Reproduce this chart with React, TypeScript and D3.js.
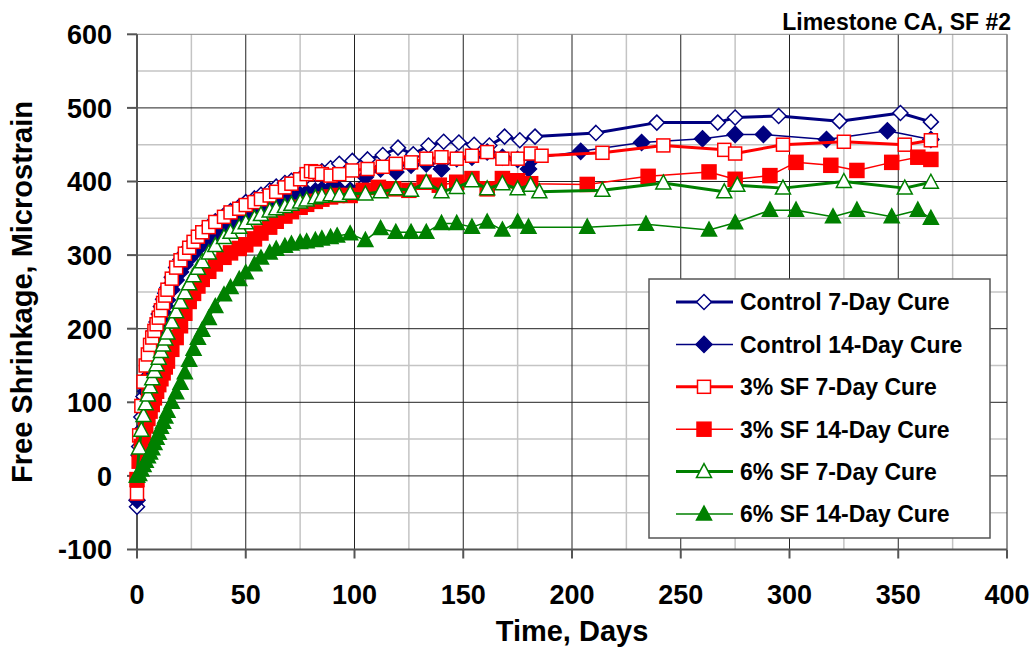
import React from "react";
import * as d3 from "d3";

type P = [number, number];

const xTicks = [0, 50, 100, 150, 200, 250, 300, 350, 400];
const yTicks = [-100, 0, 100, 200, 300, 400, 500, 600];
const xMinor = [25, 75, 125, 175, 225, 275, 325, 375];
const yMinor = [-50, 50, 150, 250, 350, 450, 550];

const title = "Limestone CA, SF #2";
const xTitle = "Time, Days";
const yTitle = "Free Shrinkage, Microstrain";

const control7: P[] = [[0,-42],[1,40],[2,80],[3,108],[4,132],[5,152],[6,168],[7,183],[8,197],[9,209],[10,220],[11,230],[12,240],[13,248],[14,256],[16,270],[18,283],[20,294],[22,303],[24,311],[26,318],[28,325],[30,331],[33,339],[36,346],[40,354],[43,360],[47,366],[50,372],[54,377],[57,382],[61,388],[64,393],[68,398],[71,401],[75,404],[78,407],[82,410],[85,414],[89,418],[93,424],[99,428],[106,430],[113,436],[120,446],[127,437],[134,449],[141,454],[148,453],[155,450],[162,449],[169,461],[176,456],[183,461],[211,466],[239,480],[267,480],[275,487],[295,489],[323,482],[351,493],[365,481]];

const control14: P[] = [[0,-33],[1,28],[2,62],[3,92],[4,115],[5,135],[6,152],[7,167],[8,180],[9,192],[10,203],[11,213],[12,222],[13,231],[14,239],[16,253],[18,266],[20,277],[22,287],[24,295],[26,302],[28,309],[30,315],[33,322],[36,329],[40,337],[43,343],[47,349],[50,354],[54,359],[57,363],[61,368],[64,372],[68,376],[71,379],[75,382],[78,385],[82,387],[85,389],[89,391],[92,392],[98,388],[105,406],[112,417],[119,413],[126,422],[133,424],[140,417],[147,431],[154,433],[161,440],[168,433],[175,430],[180,417],[182,431],[204,441],[232,453],[260,458],[275,464],[288,464],[317,457],[345,469],[365,457]];

const sf3d7: P[] = [[0,-24],[1,55],[2,95],[3,128],[4,150],[5,165],[6,178],[7,188],[8,197],[9,206],[10,215],[11,225],[12,235],[13,245],[14,253],[16,268],[18,283],[20,293],[22,302],[24,310],[26,318],[28,325],[30,331],[33,338],[36,345],[40,352],[43,358],[47,363],[50,368],[54,372],[57,376],[61,381],[64,386],[68,392],[71,397],[75,403],[78,410],[80,414],[82,413],[85,410],[89,408],[93,410],[99,415],[106,417],[113,420],[119,424],[126,426],[133,431],[140,433],[147,431],[154,435],[161,440],[168,431],[175,431],[181,438],[186,435],[214,439],[242,449],[270,443],[275,438],[297,450],[325,454],[353,450],[365,456]];

const sf3d14: P[] = [[0,-5],[1,20],[2,40],[3,55],[4,68],[5,78],[6,88],[7,97],[8,106],[9,115],[10,124],[11,132],[12,140],[13,148],[14,156],[16,172],[18,188],[20,204],[22,221],[24,237],[26,248],[28,258],[30,267],[33,278],[36,288],[40,297],[43,303],[47,309],[50,314],[54,322],[57,330],[61,338],[64,346],[68,353],[71,359],[75,365],[78,369],[82,373],[85,376],[89,379],[92,381],[98,381],[104,388],[111,392],[118,390],[125,388],[132,399],[139,395],[147,399],[154,404],[161,390],[168,404],[175,401],[181,397],[207,396],[235,407],[263,413],[275,403],[291,408],[303,426],[319,422],[331,415],[347,426],[359,433],[365,430]];

const sf6d7: P[] = [[0,0],[1,38],[2,62],[3,82],[4,98],[5,110],[6,121],[7,132],[8,142],[9,151],[10,160],[11,169],[12,178],[13,186],[14,194],[16,209],[18,223],[20,236],[22,249],[24,261],[26,272],[28,282],[30,291],[33,303],[36,313],[40,324],[43,331],[47,338],[50,344],[54,350],[57,355],[61,360],[64,363],[68,366],[71,369],[75,372],[78,375],[82,378],[85,380],[89,382],[93,381],[98,384],[105,383],[112,386],[119,390],[126,388],[133,399],[140,386],[147,392],[154,401],[161,390],[168,397],[175,390],[181,395],[185,386],[214,388],[242,398],[270,386],[276,395],[297,391],[325,400],[353,391],[365,399]];

const sf6d14: P[] = [[0,0],[1,2],[2,8],[3,14],[4,20],[5,26],[6,31],[7,37],[8,44],[9,51],[10,58],[11,66],[12,73],[13,80],[14,88],[16,100],[18,113],[20,126],[22,140],[24,157],[26,172],[28,187],[30,198],[33,214],[36,230],[40,246],[43,256],[47,267],[50,276],[54,287],[57,296],[61,303],[64,308],[68,312],[71,315],[75,317],[78,318],[82,320],[85,322],[89,324],[92,326],[98,329],[105,320],[112,336],[119,331],[126,331],[133,331],[140,343],[147,343],[154,338],[161,345],[168,334],[175,345],[180,338],[207,338],[234,342],[263,334],[275,344],[291,361],[303,361],[320,352],[331,361],[347,352],[359,361],[365,350]];

const seriesNames = ["Control 7-Day Cure", "Control 14-Day Cure", "3% SF 7-Day Cure", "3% SF 14-Day Cure", "6% SF 7-Day Cure", "6% SF 14-Day Cure"];
const seriesData = [control7, control14, sf3d7, sf3d14, sf6d7, sf6d14];
const seriesColors = ["#000080", "#000080", "#FF0000", "#FF0000", "#008000", "#008000"];
const seriesShapes = ["diamond", "diamond", "square", "square", "triangle", "triangle"];
const seriesFilled = [false, true, false, true, false, true];
const seriesThick = [true, false, true, false, true, false];

const FONT = "'Liberation Sans', Arial, Helvetica, sans-serif";

function Marker({ shape, filled, color, x, y }: { shape: string; filled: boolean; color: string; x: number; y: number }) {
  const fill = filled ? color : "#fff";
  const sw = 1.5;
  if (shape === "diamond") {
    const r = filled ? 8 : 7.5;
    return <path d={`M${x},${y - r}L${x + r},${y}L${x},${y + r}L${x - r},${y}Z`} fill={fill} stroke={color} strokeWidth={sw} />;
  }
  if (shape === "square") {
    const h = filled ? 7 : 6.5;
    return <rect x={x - h} y={y - h} width={2 * h} height={2 * h} fill={fill} stroke={color} strokeWidth={sw} />;
  }
  const w = 7.5;
  return <path d={`M${x},${y - 8}L${x + w},${y + 6}L${x - w},${y + 6}Z`} fill={fill} stroke={color} strokeWidth={sw} strokeLinejoin="miter" />;
}

export default function App() {
  const W = 1036, H = 648;
  const x = d3.scaleLinear().domain([0, 400]).range([137, 1007]);
  const y = d3.scaleLinear().domain([-100, 600]).range([549.5, 34.3]);
  const line = d3.line<P>().x((d) => x(d[0])).y((d) => y(d[1]));

  const legX = 649, legY = 279, legW = 341, legH = 259;
  const legRow0 = 302, legStep = 42.4;

  return (
    <svg width={W} height={H} style={{ position: "absolute", left: 0, top: 0, background: "#fff" }} fontFamily={FONT}>
      <rect x={0} y={0} width={W} height={H} fill="#fff" />
      <g stroke="#c4c4c4" strokeWidth={1.5}>
        {xMinor.map((v) => <line key={"xm" + v} x1={x(v)} x2={x(v)} y1={y(600)} y2={y(-100)} />)}
        {yMinor.map((v) => <line key={"ym" + v} x1={x(0)} x2={x(400)} y1={y(v)} y2={y(v)} />)}
      </g>
      <g stroke="#222" strokeWidth={1}>
        {xTicks.filter((v) => v > 0).map((v) => <line key={"xM" + v} x1={x(v)} x2={x(v)} y1={y(600)} y2={y(-100)} />)}
        {yTicks.filter((v) => v > -100).map((v) => <line key={"yM" + v} x1={x(0)} x2={x(400)} y1={y(v)} y2={y(v)} stroke={v === 600 ? "#888" : "#222"} />)}
      </g>
      <g stroke="#555" strokeWidth={2}>
        <line x1={x(0)} x2={x(0)} y1={y(600)} y2={y(-100)} />
        <line x1={x(0)} x2={x(400)} y1={y(-100)} y2={y(-100)} />
        {yTicks.map((v) => <line key={"yt" + v} x1={x(0) - 10} x2={x(0)} y1={y(v)} y2={y(v)} />)}
        {xTicks.map((v) => <line key={"xt" + v} x1={x(v)} x2={x(v)} y1={y(-100)} y2={y(-100) + 9} />)}
      </g>
      <g fontSize={27} fontWeight="bold" fill="#000">
        {yTicks.map((v) => <text key={"yl" + v} x={112} y={y(v) + 9.8} textAnchor="end">{v}</text>)}
        {xTicks.map((v) => <text key={"xl" + v} x={x(v)} y={604} textAnchor="middle">{v}</text>)}
      </g>
      <text x={572} y={641} textAnchor="middle" fontSize={29} fontWeight="bold">{xTitle}</text>
      <text transform={`translate(32,292) rotate(-90)`} textAnchor="middle" fontSize={29} fontWeight="bold">{yTitle}</text>
      <text x={1011} y={30} textAnchor="end" fontSize={23} fontWeight="bold">{title}</text>

      {seriesData.map((data, i) => (
        <g key={"s" + i}>
          <path d={line(data) || ""} fill="none" stroke={seriesColors[i]} strokeWidth={seriesThick[i] ? 3 : 1.5} strokeLinejoin="round" />
          {data.map((d, j) => (
            <Marker key={j} shape={seriesShapes[i]} filled={seriesFilled[i]} color={seriesColors[i]} x={x(d[0])} y={y(d[1])} />
          ))}
        </g>
      ))}

      <rect x={legX} y={legY} width={legW} height={legH} fill="#fff" stroke="#555" strokeWidth={1.5} />
      {seriesNames.map((name, i) => {
        const ly = legRow0 + i * legStep;
        return (
          <g key={"lg" + i}>
            <line x1={676} x2={733} y1={ly} y2={ly} stroke={seriesColors[i]} strokeWidth={seriesThick[i] ? 3 : 1.5} />
            <Marker shape={seriesShapes[i]} filled={seriesFilled[i]} color={seriesColors[i]} x={704} y={ly} />
            <text x={740} y={ly + 8.3} fontSize={23} fontWeight="bold">{name}</text>
          </g>
        );
      })}
    </svg>
  );
}
